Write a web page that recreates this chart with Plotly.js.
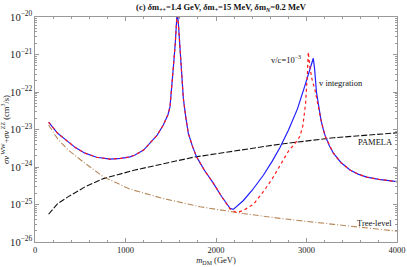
<!DOCTYPE html>
<html><head><meta charset="utf-8">
<script src="https://cdn.plot.ly/plotly-3.0.1.min.js"></script>
<style>html,body{margin:0;padding:0;background:#fff}#c{width:407px;height:267px}</style>
</head><body><div id="c"></div>
<script>
// v integration (blue)
const massBlue = [150,250,368,450,552,680,830,950,1050,1105,1200,1271,1350,1418,1470,1492,1510,1530,1550,1565,1572,1585,1602,1620,1639,1665,1694,1740,1786,1870,1970,2060,2155,2191,2230,2300,2400,2523,2620,2707,2800,2900,2980,3030,3060,3075,3090,3110,3130,3160,3186,3204,3250,3297,3380,3481,3570,3665,3800,4000];
const sigmaBlue = [1.58e-23,7.94e-24,4.68e-24,3.24e-24,2.34e-24,1.82e-24,1.62e-24,1.70e-24,1.86e-24,2.09e-24,2.82e-24,4.27e-24,7.08e-24,1.32e-23,2.51e-23,4.07e-23,1.86e-22,5.01e-22,2.0e-21,1.0e-20,1.58e-20,6.31e-21,1.48e-21,2.51e-22,6.76e-23,2.24e-23,7.94e-24,3.55e-24,1.86e-24,8.32e-25,3.72e-25,1.66e-25,7.94e-26,7.41e-26,8.91e-26,1.26e-25,2.40e-25,6.03e-25,1.41e-24,3.31e-24,9.55e-24,3.55e-23,1.41e-22,3.55e-22,6.31e-22,7.94e-22,3.98e-22,1.0e-22,5.01e-23,1.78e-23,1.0e-23,7.08e-24,3.80e-24,2.34e-24,1.32e-24,8.32e-25,6.46e-25,5.37e-25,4.68e-25,4.07e-25];
// v/c = 1e-3 (red dotted)
const massRed = [150,250,368,450,552,680,830,950,1050,1105,1200,1271,1350,1418,1470,1492,1510,1530,1550,1565,1572,1585,1602,1620,1639,1665,1694,1740,1786,1870,1970,2060,2155,2228,2300,2412,2523,2620,2707,2800,2880,2928,2960,2990,3010,3020,3035,3060,3094,3130,3168,3204,3250,3297,3380,3481,3570,3665,3800,4000];
const sigmaRed = [1.58e-23,7.94e-24,4.68e-24,3.24e-24,2.34e-24,1.82e-24,1.62e-24,1.70e-24,1.86e-24,2.09e-24,2.82e-24,4.27e-24,7.08e-24,1.32e-23,2.51e-23,4.07e-23,1.86e-22,5.01e-22,2.0e-21,1.0e-20,1.58e-20,6.31e-21,1.48e-21,2.51e-22,6.76e-23,2.24e-23,7.94e-24,3.55e-24,1.86e-24,8.32e-25,3.72e-25,1.66e-25,7.59e-26,6.03e-26,6.92e-26,1.0e-25,2.19e-25,4.79e-25,1.12e-24,2.63e-24,4.47e-24,6.61e-24,1.26e-23,5.01e-23,3.16e-22,1.17e-21,5.01e-22,2.24e-22,1.12e-22,3.98e-23,1.48e-23,6.76e-24,3.80e-24,2.34e-24,1.32e-24,8.32e-25,6.46e-25,5.37e-25,4.68e-25,4.07e-25];
// PAMELA bound (black dashed)
const massPamela = [150,250,368,552,755,1105,1749,2707,3300,4000];
const sigmaPamela = [5.50e-26,1.05e-25,1.62e-25,2.95e-25,4.90e-25,8.32e-25,1.82e-24,4.07e-24,6.03e-24,8.13e-24];
// Tree-level (brown dash-dot)
const massTree = [150,250,368,552,755,1050,1400,1823,2300,2707,3300,4000];
const sigmaTree = [1.32e-23,5.62e-24,2.82e-24,1.26e-24,5.5e-25,2.57e-25,1.48e-25,8.71e-26,5.75e-26,4.27e-26,2.95e-26,1.95e-26];

const xTicks = [0,1000,2000,3000,4000];
const labels = {vc:'v/c=10<sup>−3</sup>', vint:'v integration', pamela:'PAMELA', tree:'Tree-level'};

const F = 'Liberation Serif, Times New Roman, serif';
const traces = [
  {x:massPamela, y:sigmaPamela, mode:'lines', line:{color:'#111', width:1.1, dash:'6px,2px'}, hoverinfo:'skip'},
  {x:massTree, y:sigmaTree, mode:'lines', line:{color:'#b8895d', width:1.1, dash:'6px,2px,1px,2px'}, hoverinfo:'skip'},
  {x:massBlue, y:sigmaBlue, mode:'lines', line:{color:'#1f1fff', width:1.2}, hoverinfo:'skip'},
  {x:massRed, y:sigmaRed, mode:'lines', line:{color:'#ff1a1a', width:1.2, dash:'dot'}, hoverinfo:'skip'}
];
const layout = {
  width:407, height:267, showlegend:false,
  paper_bgcolor:'#fff', plot_bgcolor:'#fff',
  margin:{l:35, r:10, t:17, b:25},
  font:{family:F, size:8, color:'#222'},
  title:{text:'<b>(c) <i>δ</i>m<sub>++</sub>=1.4 GeV, <i>δ</i>m<sub>+</sub>=15 MeV, <i>δ</i>m<sub><i>N</i></sub>=0.2 MeV</b>',
    font:{family:F, size:8.5, color:'#111'}, x:0.543, xref:'container', xanchor:'center', y:0.985, yref:'container', yanchor:'top'},
  xaxis:{range:[0,4000], tickvals:xTicks, ticktext:xTicks.map(String), ticks:'inside', ticklen:4, tickcolor:'#999',
    showline:true, linecolor:'#999', linewidth:1, mirror:'ticks', showgrid:false, zeroline:false,
    minor:{dtick:200, ticks:'inside', ticklen:2, tickcolor:'#999', showgrid:false},
    tickfont:{family:F, size:8.5, color:'#222'},
    title:{text:'<i>m</i><sub>DM</sub> (GeV)', font:{family:F, size:8.5, color:'#222'}, standoff:2}},
  yaxis:{type:'log', range:[-26,-20], dtick:1, exponentformat:'power', ticks:'inside', ticklen:4, tickcolor:'#999',
    showline:true, linecolor:'#999', linewidth:1, mirror:'ticks', showgrid:false, zeroline:false,
    minor:{ticks:'inside', ticklen:2, tickcolor:'#999', showgrid:false},
    tickfont:{family:F, size:8.5, color:'#222'},
    title:{text:'<i>σv</i><sup> WW</sup>+<i>σv</i><sup> ZZ</sup> (cm<sup>3</sup>/s)', font:{family:F, size:8.5, color:'#222'}, standoff:0}},
  annotations:[
    {x:2773, y:-21.12, xref:'x', yref:'y', text:labels.vc, showarrow:false, font:{family:F, size:8.5, color:'#111'}},
    {x:3112, y:-21.75, xref:'x', yref:'y', text:labels.vint, showarrow:false, xanchor:'left', font:{family:F, size:8.5, color:'#111'}},
    {x:3757, y:-23.33, xref:'x', yref:'y', text:labels.pamela, showarrow:false, font:{family:F, size:8.5, color:'#111'}},
    {x:3746, y:-25.49, xref:'x', yref:'y', text:labels.tree, showarrow:false, font:{family:F, size:8.5, color:'#111'}}
  ]
};
Plotly.newPlot('c', traces, layout, {staticPlot:true, displayModeBar:false});
</script></body></html>
